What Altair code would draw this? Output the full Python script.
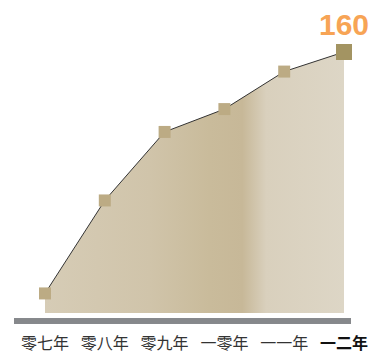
import altair as alt
import pandas as pd

years = ["零七年", "零八年", "零九年", "一零年", "一一年", "一二年"]
values = [12, 69, 111, 125, 148, 160]

df = pd.DataFrame({"year": years, "value": values,
                   "last": [False] * 5 + [True]})

x = alt.X("year:N", sort=years, axis=None,
          scale=alt.Scale(type="point", domain=years, range=[45, 344],
                          padding=0))
y = alt.Y("value:Q", axis=None,
          scale=alt.Scale(domain=[0, 160], range=[313, 52], zero=True))

base = alt.Chart(df)

area = base.mark_area(
    interpolate="linear",
    color=alt.Gradient(
        gradient="linear", x1=0, x2=1, y1=0, y2=0,
        stops=[
            alt.GradientStop(offset=0, color="#d6ccb6"),
            alt.GradientStop(offset=0.35, color="#d0c4aa"),
            alt.GradientStop(offset=0.55, color="#c9bb9b"),
            alt.GradientStop(offset=0.66, color="#c7b898"),
            alt.GradientStop(offset=0.74, color="#d9d0bd"),
            alt.GradientStop(offset=1, color="#ddd6c6"),
        ],
    ),
).encode(x=x, y=y)

line = base.mark_line(interpolate="linear", color="#333333",
                      strokeWidth=1).encode(x=x, y=y)

pts = base.transform_filter("!datum.last").mark_square(
    size=144, color="#bcab84", opacity=1).encode(x=x, y=y)

last_pt = base.transform_filter("datum.last").mark_square(
    size=256, color="#a39462", opacity=1).encode(x=x, y=y)

last_label = base.transform_filter("datum.last").mark_text(
    font="Liberation Sans", fontSize=30, fontWeight="bold",
    color="#f7a455", align="center", baseline="alphabetic", dy=-17
).encode(x=x, y=y, text=alt.Text("value:Q"))

baseline_rule = base.mark_rule(color="#86888b", strokeWidth=5).encode(
    x=alt.value(14), x2=alt.value(351), y=alt.value(321))

labels = base.transform_filter("!datum.last").mark_text(
    font="Noto Sans CJK SC", fontSize=16, color="#333333",
    baseline="middle", align="center"
).encode(x=x, y=alt.value(344), text="year:N")

label_last = base.transform_filter("datum.last").mark_text(
    font="Noto Sans CJK SC", fontSize=16, fontWeight="bold",
    color="#111111", baseline="middle", align="center"
).encode(x=x, y=alt.value(344), text="year:N")

chart = alt.layer(
    area, line, pts, last_pt, last_label, baseline_rule, labels, label_last
).properties(
    width=369, height=354, padding=0,
    autosize=alt.AutoSizeParams(type="none"),
    background="#ffffff",
).configure_view(stroke=None)

chart.save("out.html", embed_options={"renderer": "svg", "actions": False})
